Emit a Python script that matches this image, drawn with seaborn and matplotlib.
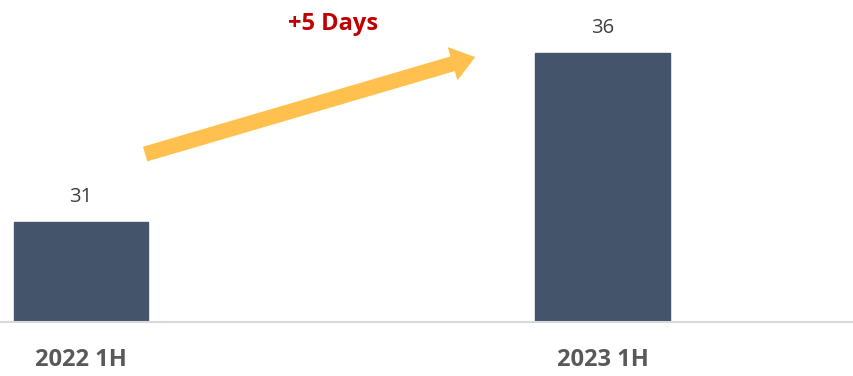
import matplotlib
matplotlib.use("Agg")
import matplotlib.pyplot as plt
import seaborn as sns
import pandas as pd

categories = ["2022 1H", "2023 1H"]
values = [31, 36]
change_label = "+5 Days"

sns.set_theme(style="white")
plt.rcParams['font.family'] = ['Open Sans', 'DejaVu Sans']

df = pd.DataFrame({"period": categories, "days": values})

fig = plt.figure(figsize=(8.54, 3.76), dpi=100)
ax = fig.add_axes([0, 54/376, 1, 322/376])

sns.barplot(data=df, x="period", y="days", color="#44546A", width=0.258,
            saturation=1, ax=ax, edgecolor="#44546A")

ax.set_xlim(-0.1553, 1.4823)
ax.set_ylim(28.04, 37.57)

for c in ax.containers:
    ax.bar_label(c, labels=[str(v) for v in values], padding=11,
                 fontsize=14.5, color="#404040")

ax.set_xlabel("")
ax.set_ylabel("")
ax.set_yticks([])
ax.tick_params(axis="x", length=0, pad=19, labelsize=17, labelcolor="#595959")
for t in ax.get_xticklabels():
    t.set_fontweight("bold")

for s in ["top", "left", "right"]:
    ax.spines[s].set_visible(False)
ax.spines["bottom"].set_color("#D9D9D9")
ax.spines["bottom"].set_linewidth(1.5)

# growth arrow
ax.annotate("", xy=(0.756, 35.88), xytext=(0.123, 33.01),
            arrowprops=dict(arrowstyle="simple,head_length=17,head_width=25,tail_width=11",
                            mutation_scale=1, color="#FFC04D", lw=0,
                            shrinkA=0, shrinkB=0))
ax.text(0.483, 36.86, change_label, ha="center", va="center",
        fontsize=17, fontweight="bold", color="#C00000")

fig.savefig("out.png", dpi=100)
